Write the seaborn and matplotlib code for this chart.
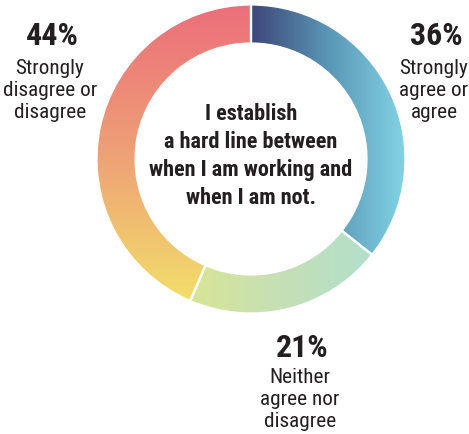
import numpy as np
import matplotlib
matplotlib.use("Agg")
import matplotlib.pyplot as plt
from matplotlib.patches import Wedge
from matplotlib import font_manager
from matplotlib.font_manager import FontProperties
import seaborn as sns

# ---- data ----
categories = ["Strongly agree or agree", "Neither agree nor disagree", "Strongly disagree or disagree"]
values = [36, 21, 44]
pct_labels = ["36%", "21%", "44%"]
body_labels = [["Strongly", "agree or", "agree"],
               ["Neither", "agree nor", "disagree"],
               ["Strongly", "disagree or", "disagree"]]
center_lines = ["I establish", "a hard line between", "when I am working and", "when I am not."]

sns.set_theme(style="white")

files = {f.fname.split("/")[-1]: f.fname for f in font_manager.fontManager.ttflist}


def pick(cands):
    for c in cands:
        if c in files:
            return FontProperties(fname=files[c])
    return FontProperties(family="DejaVu Sans")


FB = pick(["RobotoCondensed-Bold.ttf", "IBMPlexSansCondensed-Bold.ttf",
           "FiraSansCondensed-Bold.ttf", "DejaVuSansCondensed-Bold.ttf"])
FR = pick(["RobotoCondensed-Regular.ttf", "IBMPlexSansCondensed-Regular.ttf",
           "FiraSansCondensed-Regular.ttf", "DejaVuSansCondensed.ttf"])

W, H = 469, 435
fig = plt.figure(figsize=(W / 100, H / 100), dpi=100)
ax = fig.add_axes([0, 0, 1, 1])

cx, cy = 251, H - 160
R, r = 154, 116

# gradients (colour stops) per segment
grads = [
    ("x", ["#3d4679", "#5a96b5", "#82d3e4"], cx, cx + R),
    ("x", ["#d8e597", "#c5e0b5", "#b2dfcb"], cx - 60, cx + 120),
    ("y", ["#ec6e7b", "#eea176", "#f2e06a"], H - 6, H - 305),
]

total = float(sum(values))
start = 90.0
for v, (axis, stops, a0, a1) in zip(values, grads):
    span = v / total * 360.0
    t1, t2 = start - span, start
    n = 256
    cols = np.array(sns.blend_palette(stops, n_colors=n))
    if axis == "x":
        img = np.repeat(cols[np.newaxis, :, :], 2, axis=0)
        extent = (a0, a1, cy - R - 2, cy + R + 2)
        origin = "lower"
    else:
        img = np.repeat(cols[:, np.newaxis, :], 2, axis=1)
        extent = (cx - R - 2, cx + R + 2, a1, a0)
        origin = "upper"
    im = ax.imshow(img, extent=extent, origin=origin, aspect="auto",
                   zorder=2, interpolation="bilinear")
    clipw = Wedge((cx, cy), R, t1, t2, width=R - r, transform=ax.transData)
    im.set_clip_path(clipw)
    ax.add_patch(Wedge((cx, cy), R + 0.5, t1, t2, width=R - r + 1, facecolor="none",
                       edgecolor="white", linewidth=1.6, zorder=3))
    start = t1

ax.set_xlim(0, W)
ax.set_ylim(0, H)
ax.set_aspect("equal")
ax.axis("off")

tc = "#231f20"
# label positions (pixel coords: x center, pct baseline, body baselines)
label_pos = [(434, 45, [74, 96, 118]),
             (300, 357, [383, 405, 427]),
             (50, 45, [74, 96, 118])]
for pct, body, (x, yb, ybs) in zip(pct_labels, body_labels, label_pos):
    ax.text(x + 2, H - yb, pct, ha="center", va="baseline", fontproperties=FB,
            fontsize=23, color=tc)
    for line, yy in zip(body, ybs):
        ax.text(x, H - yy, line, ha="center", va="baseline", fontproperties=FR,
                fontsize=15.3, color=tc)

for line, yy in zip(center_lines, [120, 148, 176, 204]):
    ax.text(cx, H - yy, line, ha="center", va="baseline", fontproperties=FB,
            fontsize=16, color=tc)

fig.savefig("out.png", dpi=100, facecolor="white")
